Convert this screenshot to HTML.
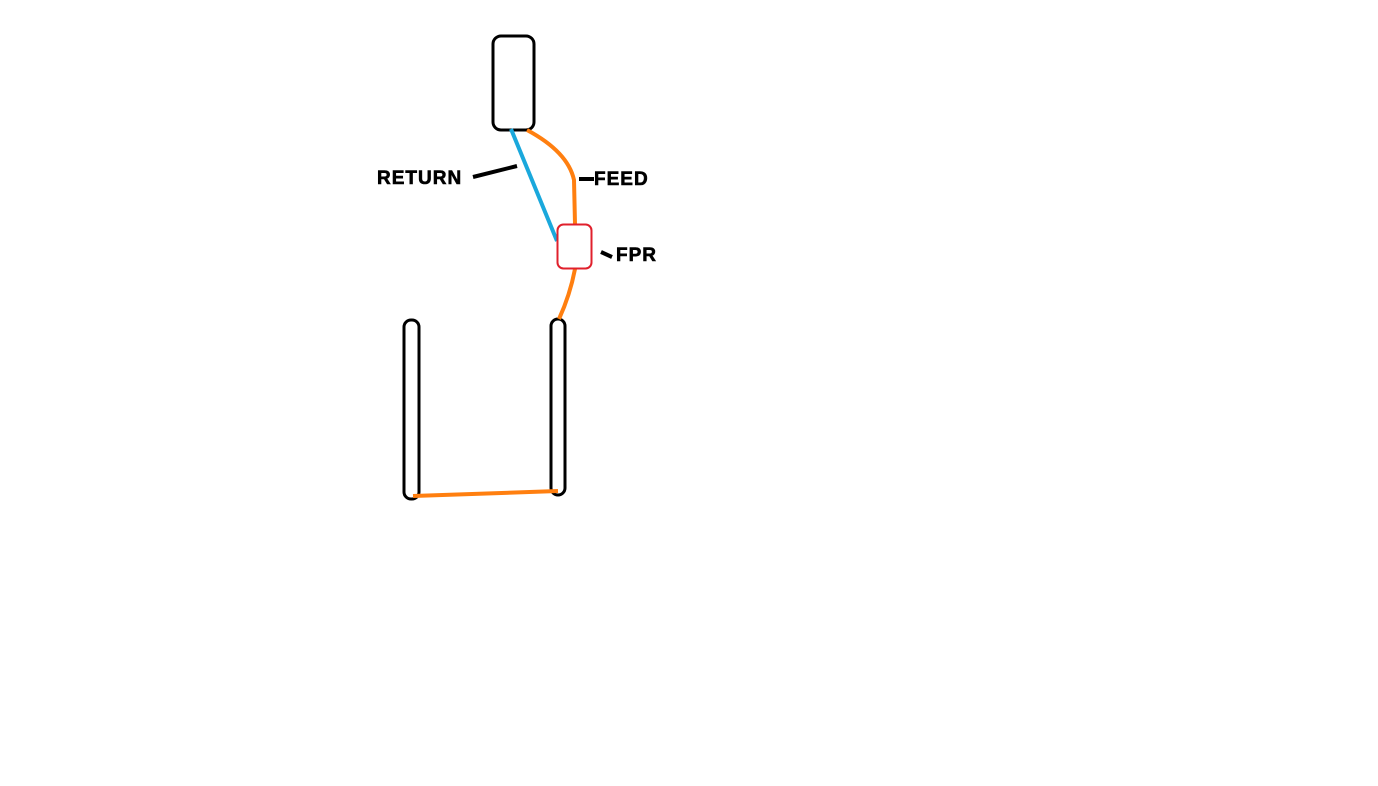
<!DOCTYPE html>
<html><head><style>
body{margin:0;background:#fff;width:1378px;height:786px;overflow:hidden}
svg{position:absolute;left:0;top:0}
text{font-family:"Liberation Sans",Arial,sans-serif;font-weight:bold;font-size:19px;letter-spacing:1px;fill:#000;stroke:#000;stroke-width:0.6}
</style></head><body>
<svg width="1378" height="786" viewBox="0 0 1378 786">
<rect x="493" y="36" width="41" height="94" rx="8" fill="none" stroke="#000" stroke-width="3"/>
<rect x="404" y="320" width="15" height="179" rx="7" fill="none" stroke="#000" stroke-width="3"/>
<rect x="551" y="319" width="14" height="176" rx="7" fill="none" stroke="#000" stroke-width="3"/>
<line x1="511" y1="129" x2="557" y2="241" stroke="#1aa8dc" stroke-width="4"/>
<path d="M527 130 Q568 152 574 180 L575 224" fill="none" stroke="#ff7f10" stroke-width="4"/>
<path d="M575 269 Q570 295 559 319" fill="none" stroke="#ff7f10" stroke-width="4"/>
<line x1="413" y1="496" x2="558" y2="491" stroke="#ff7f10" stroke-width="4"/>
<rect x="557.5" y="224.5" width="34" height="44" rx="6" fill="#fff" stroke="#e0202c" stroke-width="2"/>
<line x1="473" y1="177" x2="517" y2="166" stroke="#000" stroke-width="4"/>
<line x1="579" y1="179" x2="594" y2="179" stroke="#000" stroke-width="4"/>
<line x1="601" y1="252" x2="612" y2="257" stroke="#000" stroke-width="4"/>
<text x="377" y="184">RETURN</text>
<text x="594" y="185">FEED</text>
<text x="616" y="261">FPR</text>
</svg>
</body></html>
